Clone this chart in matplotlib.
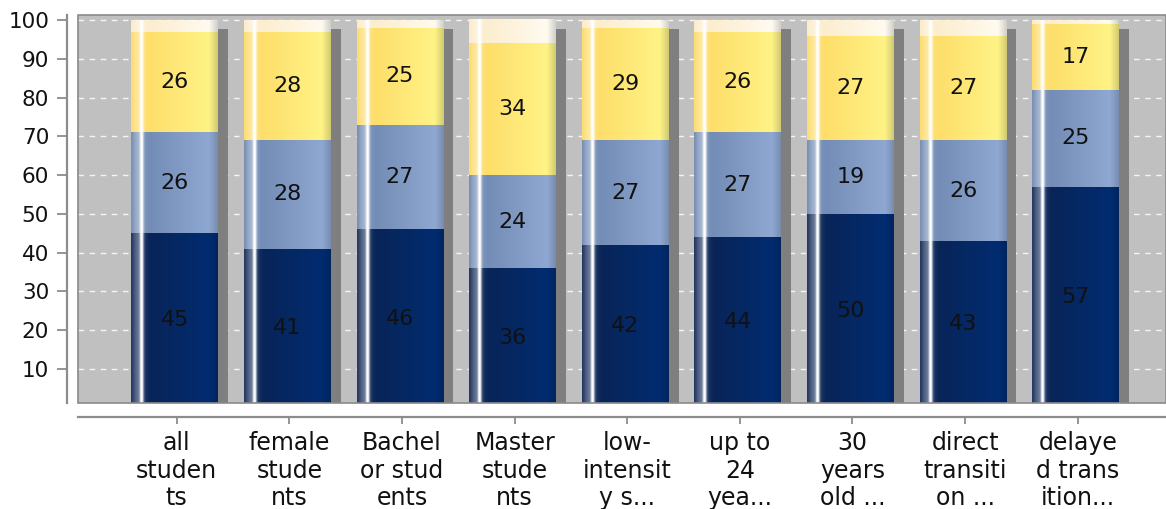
import matplotlib.pyplot as plt
import matplotlib.colors as mcolors
from matplotlib.patches import Rectangle
import numpy as np

plt.rcParams['font.family'] = 'DejaVu Sans'

# chart data
categories = ['all\nstuden\nts', 'female\nstude\nnts', 'Bachel\nor stud\nents',
              'Master\nstude\nnts', 'low-\nintensit\ny s...', 'up to\n24\nyea...',
              '30\nyears\nold ...', 'direct\ntransiti\non ...', 'delaye\nd trans\nition...']
low = [45, 41, 46, 36, 42, 44, 50, 43, 57]
middle = [26, 28, 27, 24, 27, 27, 19, 26, 25]
high = [26, 28, 25, 34, 29, 26, 27, 27, 17]
total = 100

# left/right colours of each segment gradient
SEG_COLORS = [
    ('#0b2250', '#002d74'),   # dark navy
    ('#6a84ad', '#93acd6'),   # steel blue
    ('#fdd862', '#fff68a'),   # yellow
    ('#fbe9c4', '#fffdf5'),   # cream remainder
]

YMIN, YMAX = 1.2, 101.3
BAR_W = 0.77


def gradient(c0, c1, n=120):
    t = np.linspace(0, 1, n)
    a = np.array(mcolors.to_rgb(c0))
    b = np.array(mcolors.to_rgb(c1))
    base = a[None, :] * (1 - t[:, None]) + b[None, :] * t[:, None]
    # slight darkening towards the right edge
    edge = np.clip((t - 0.9) / 0.1, 0, 1)[:, None] * 0.18
    base = base * (1 - edge)
    # glossy highlight near the left edge
    w = 0.35 * np.exp(-((t - 0.08) / 0.07) ** 2) + 0.85 * np.exp(-((t - 0.12) / 0.022) ** 2)
    w = np.clip(w, 0, 1)[:, None]
    rgb = base * (1 - w) + w
    return rgb[None, :, :]


fig = plt.figure(figsize=(11.66, 5.09), dpi=100)
ax = fig.add_axes([78.3 / 1166, 1 - 403 / 509, 1 - 78.3 / 1166, (403 - 15) / 509])
ax.set_facecolor('#c0c0c0')

x = np.arange(len(categories))

# dashed grid
for v in range(10, 101, 10):
    ax.axhline(v, color='white', lw=1, dashes=(4, 4), alpha=0.85, zorder=1)

dx = 10 / 112.6
dy = 2.4
for i in range(len(categories)):
    x0 = x[i] - BAR_W / 2 - 0.018
    x1 = x0 + BAR_W
    # drop shadow
    ax.add_patch(Rectangle((x0 + dx, YMIN - 1), BAR_W, total - dy - YMIN + 1,
                           facecolor='#7f7f7f', edgecolor='none', zorder=2))
    segs = [low[i], middle[i], high[i], max(total - low[i] - middle[i] - high[i], 0)]
    bottom = 0
    for k, h in enumerate(segs):
        if h <= 0:
            continue
        ax.imshow(gradient(*SEG_COLORS[k]), extent=(x0, x1, bottom, bottom + h),
                  aspect='auto', interpolation='bilinear', zorder=3)
        if k < 3:
            ax.text(x[i] - 0.018, bottom + h / 2, str(h), ha='center', va='center',
                    fontsize=16, color='#111111', zorder=4)
        bottom += h

ax.set_xlim(-0.874, 8.784)
ax.set_ylim(YMIN, YMAX)

# plot frame
ax.add_patch(Rectangle((0, 0), 1, 1, transform=ax.transAxes, fill=False,
                       edgecolor='#8a8a8a', lw=1.2, zorder=5, clip_on=False))

for s in ['top', 'right']:
    ax.spines[s].set_visible(False)
ax.spines['left'].set_position(('outward', 8))
ax.spines['bottom'].set_position(('outward', 10))
for s in ['left', 'bottom']:
    ax.spines[s].set_color('#8c8c8c')
    ax.spines[s].set_linewidth(1.6)

ax.set_yticks(range(10, 101, 10))
ax.tick_params(axis='y', length=7, width=1.3, color='#8c8c8c', pad=6,
               labelsize=15.5, labelcolor='#111111')
ax.set_xticks(x)
ax.set_xticklabels(categories, linespacing=1.2)
ax.tick_params(axis='x', length=5, width=1.3, color='#8c8c8c', pad=5,
               labelsize=17, labelcolor='#111111')

fig.savefig('out.png', dpi=100)
